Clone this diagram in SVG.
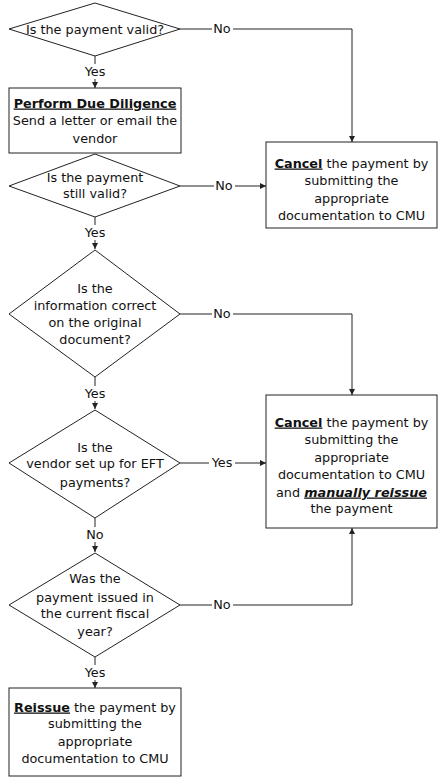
<svg xmlns="http://www.w3.org/2000/svg" width="447" height="781" viewBox="0 0 447 781">
<defs>
<style>
.s{fill:#fff;stroke:#222;stroke-width:1}
.c{fill:none;stroke:#222;stroke-width:1}
text{font-family:"DejaVu Sans","Liberation Sans",sans-serif;font-size:12.8px;fill:#111;text-anchor:middle}
.b{font-weight:bold;text-decoration:underline}
.bg{fill:#fff}
</style>
<marker id="a" viewBox="0 0 8 8" refX="8" refY="4" markerWidth="6" markerHeight="6" orient="auto" markerUnits="userSpaceOnUse">
<path d="M0,0 L8,4 L0,8 Z" fill="#222"/>
</marker>
</defs>
<rect width="447" height="781" fill="#fff"/>
<g id="connectors">
<path class="c" d="M180,29 H352 V142" marker-end="url(#a)"/>
<path class="c" d="M95,56 V88" marker-end="url(#a)"/>
<path class="c" d="M180,186 H266" marker-end="url(#a)"/>
<path class="c" d="M95,217 V249" marker-end="url(#a)"/>
<path class="c" d="M180,314 H352 V395" marker-end="url(#a)"/>
<path class="c" d="M95,377 V409" marker-end="url(#a)"/>
<path class="c" d="M180,463 H266" marker-end="url(#a)"/>
<path class="c" d="M95,518 V552" marker-end="url(#a)"/>
<path class="c" d="M180,605 H352 V528" marker-end="url(#a)"/>
<path class="c" d="M95,657 V688" marker-end="url(#a)"/>
<rect class="bg" x="212" y="22" width="21" height="14"/><text x="222" y="33">No</text>
<rect class="bg" x="82" y="64" width="26" height="15"/><text x="95" y="76">Yes</text>
<rect class="bg" x="214" y="179" width="21" height="14"/><text x="224" y="190">No</text>
<rect class="bg" x="82" y="225" width="26" height="15"/><text x="95" y="237">Yes</text>
<rect class="bg" x="212" y="307" width="21" height="14"/><text x="222" y="318">No</text>
<rect class="bg" x="82" y="386" width="26" height="15"/><text x="95" y="398">Yes</text>
<rect class="bg" x="209" y="456" width="26" height="14"/><text x="222" y="467">Yes</text>
<rect class="bg" x="84" y="527" width="21" height="15"/><text x="95" y="539">No</text>
<rect class="bg" x="212" y="598" width="21" height="14"/><text x="222" y="609">No</text>
<rect class="bg" x="82" y="665" width="26" height="15"/><text x="95" y="677">Yes</text>
</g>
<g id="d1">
<polygon class="s" points="95,3 180,29 95,56 9,29"/>
<text x="95" y="33.5">Is the payment valid?</text>
</g>
<g id="box1">
<rect class="s" x="9" y="88" width="172" height="65"/>
<text x="95" y="107.5" class="b">Perform Due Diligence</text>
<text x="95" y="124.5">Send a letter or email the</text>
<text x="95" y="142.5">vendor</text>
</g>
<g id="d2">
<polygon class="s" points="95,154 180,186 95,217 9,186"/>
<text x="95" y="181.5">Is the payment</text>
<text x="95" y="197.5">still valid?</text>
</g>
<g id="cancel1">
<rect class="s" x="266" y="142" width="171" height="86"/>
<text x="351.5" y="167.5"><tspan class="b">Cancel</tspan> the payment by</text>
<text x="351.5" y="185">submitting the</text>
<text x="351.5" y="202.5">appropriate</text>
<text x="351.5" y="220">documentation to CMU</text>
</g>
<g id="d3">
<polygon class="s" points="95,250 180,314 95,377 9,314"/>
<text x="95" y="292.5">Is the</text>
<text x="95" y="309.5">information correct</text>
<text x="95" y="326.5">on the original</text>
<text x="95" y="343.5">document?</text>
</g>
<g id="cancel2">
<rect class="s" x="266" y="395" width="171" height="133"/>
<text x="351.5" y="426.5"><tspan class="b">Cancel</tspan> the payment by</text>
<text x="351.5" y="443.5">submitting the</text>
<text x="351.5" y="461.5">appropriate</text>
<text x="351.5" y="478.5">documentation to CMU</text>
<text x="351.5" y="496.5">and <tspan class="b" font-style="italic">manually reissue</tspan></text>
<text x="351.5" y="512.5">the payment</text>
</g>
<g id="d4">
<polygon class="s" points="95,410 180,463 95,518 9,463"/>
<text x="95" y="451.5">Is the</text>
<text x="95" y="467.5">vendor set up for EFT</text>
<text x="95" y="486.5">payments?</text>
</g>
<g id="d5">
<polygon class="s" points="95,553 180,605 95,657 9,605"/>
<text x="95" y="582.5">Was the</text>
<text x="95" y="601.5">payment issued in</text>
<text x="95" y="617.5">the current fiscal</text>
<text x="95" y="635.5">year?</text>
</g>
<g id="reissue">
<rect class="s" x="9" y="688" width="172" height="88"/>
<text x="95" y="711.5"><tspan class="b">Reissue</tspan> the payment by</text>
<text x="95" y="727.5">submitting the</text>
<text x="95" y="745.5">appropriate</text>
<text x="95" y="762.5">documentation to CMU</text>
</g>
</svg>
